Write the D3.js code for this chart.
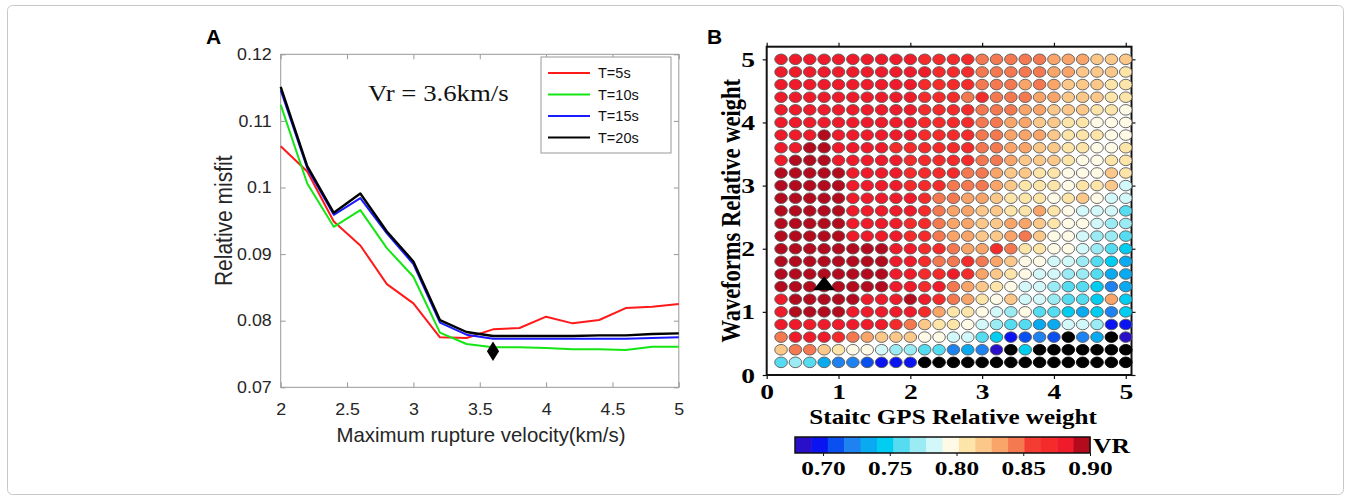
<!DOCTYPE html>
<html>
<head>
<meta charset="utf-8">
<script src="https://cdn.jsdelivr.net/npm/d3@7"></script>
<style>
body { margin: 0; background: #fff; }
svg { display: block; }
</style>
</head>
<body>
<script>
// ---- panel A data ----
const velocities = [2.0, 2.2, 2.4, 2.6, 2.8, 3.0, 3.2, 3.4, 3.6, 3.8, 4.0, 4.2, 4.4, 4.6, 4.8, 5.0];
const misfitT5  = [0.1062, 0.1024, 0.0949, 0.0913, 0.0855, 0.0826, 0.0775, 0.0774, 0.0787, 0.0789, 0.0806, 0.0796, 0.0801, 0.0819, 0.0821, 0.0825];
const misfitT10 = [0.1124, 0.1006, 0.0941, 0.0966, 0.0909, 0.0866, 0.0782, 0.0765, 0.0760, 0.0760, 0.0759, 0.0757, 0.0757, 0.0756, 0.0761, 0.0761];
const misfitT15 = [0.1146, 0.1029, 0.0959, 0.0984, 0.0931, 0.0885, 0.0797, 0.0779, 0.0773, 0.0773, 0.0773, 0.0773, 0.0773, 0.0773, 0.0774, 0.0775];
const misfitT20 = [0.1151, 0.1032, 0.0962, 0.0991, 0.0934, 0.0889, 0.0801, 0.0783, 0.0777, 0.0777, 0.0777, 0.0777, 0.0778, 0.0778, 0.0780, 0.0781];
const seriesNames = ["T=5s", "T=10s", "T=15s", "T=20s"];
const seriesColors = ["#ff1a1a", "#14e614", "#1a1aff", "#000000"];
const bestVr = [3.6, 0.0754];
const xTicksA = [2, 2.5, 3, 3.5, 4, 4.5, 5];
const yTicksA = [0.07, 0.08, 0.09, 0.1, 0.11, 0.12];

// ---- panel B data ----
const gpsWeights = [0.2, 0.4, 0.6, 0.8, 1.0, 1.2, 1.4, 1.6, 1.8, 2.0, 2.2, 2.4, 2.6, 2.8, 3.0, 3.2, 3.4, 3.6, 3.8, 4.0, 4.2, 4.4, 4.6, 4.8, 5.0];
// rows from top (5.0) to bottom (0.2)
const waveWeights = [5.0, 4.8, 4.6, 4.4, 4.2, 4.0, 3.8, 3.6, 3.4, 3.2, 3.0, 2.8, 2.6, 2.4, 2.2, 2.0, 1.8, 1.6, 1.4, 1.2, 1.0, 0.8, 0.6, 0.4, 0.2];
const vrRows = [
  [.88,.88,.88,.88,.88,.88,.88,.88,.88,.88,.87,.87,.87,.87,.845,.845,.845,.845,.845,.83,.83,.83,.82,.82,.82],
  [.88,.88,.88,.88,.88,.88,.88,.88,.88,.88,.88,.87,.87,.87,.845,.845,.845,.845,.845,.83,.83,.82,.82,.82,.81],
  [.88,.88,.88,.88,.88,.88,.88,.88,.88,.88,.87,.87,.87,.87,.845,.845,.845,.83,.845,.83,.82,.82,.82,.81,.81],
  [.88,.88,.88,.88,.88,.88,.88,.88,.88,.88,.87,.87,.87,.845,.87,.845,.845,.845,.83,.83,.82,.82,.82,.81,.81],
  [.88,.88,.88,.88,.88,.88,.88,.88,.88,.88,.87,.87,.87,.87,.845,.845,.845,.83,.83,.82,.82,.82,.81,.81,.795],
  [.88,.88,.88,.88,.88,.88,.88,.88,.88,.88,.87,.87,.87,.87,.845,.845,.83,.83,.82,.82,.81,.81,.795,.795,.795],
  [.88,.88,.88,.89,.88,.88,.88,.88,.88,.88,.87,.87,.87,.87,.845,.845,.83,.83,.83,.82,.81,.81,.81,.795,.795],
  [.88,.88,.89,.89,.88,.88,.88,.88,.87,.87,.87,.87,.87,.87,.845,.845,.83,.83,.82,.82,.81,.81,.795,.795,.81],
  [.88,.89,.89,.89,.88,.88,.88,.88,.88,.87,.87,.87,.87,.87,.845,.845,.83,.82,.82,.82,.81,.795,.795,.81,.81],
  [.89,.89,.89,.89,.89,.88,.88,.88,.88,.87,.87,.87,.87,.845,.845,.83,.82,.82,.81,.81,.795,.795,.795,.82,.81],
  [.89,.89,.89,.89,.89,.88,.88,.88,.88,.87,.87,.87,.845,.845,.845,.83,.82,.81,.81,.81,.795,.81,.81,.82,.78],
  [.89,.89,.89,.89,.89,.88,.88,.88,.88,.88,.87,.845,.845,.83,.83,.82,.81,.81,.81,.795,.81,.82,.795,.78,.78],
  [.89,.89,.89,.89,.89,.88,.88,.88,.88,.88,.87,.845,.83,.83,.82,.82,.81,.81,.83,.81,.795,.78,.78,.78,.755],
  [.89,.89,.89,.89,.89,.88,.88,.88,.88,.87,.87,.845,.83,.83,.82,.82,.83,.83,.82,.81,.795,.795,.78,.77,.77],
  [.89,.89,.89,.89,.89,.88,.88,.88,.88,.87,.87,.845,.83,.83,.82,.82,.83,.845,.82,.795,.795,.78,.77,.77,.755],
  [.89,.89,.89,.89,.89,.89,.89,.89,.88,.88,.87,.87,.845,.83,.83,.87,.845,.81,.81,.795,.795,.78,.77,.755,.745],
  [.89,.89,.89,.89,.89,.89,.89,.89,.88,.88,.87,.845,.845,.87,.845,.83,.82,.795,.795,.78,.78,.77,.755,.745,.73],
  [.89,.89,.89,.89,.89,.89,.89,.89,.88,.88,.87,.87,.88,.87,.83,.82,.81,.795,.78,.78,.77,.77,.755,.73,.73],
  [.89,.89,.89,.89,.89,.89,.89,.89,.88,.88,.87,.88,.845,.83,.82,.81,.795,.78,.78,.77,.755,.755,.745,.72,.73],
  [.88,.89,.89,.89,.89,.89,.88,.88,.88,.89,.88,.87,.845,.83,.81,.795,.82,.78,.78,.77,.755,.755,.745,.83,.745],
  [.88,.89,.89,.89,.89,.88,.88,.88,.88,.88,.87,.83,.81,.81,.795,.78,.77,.795,.755,.755,.745,.73,.745,.72,.745],
  [.88,.88,.88,.88,.88,.88,.88,.88,.87,.845,.82,.81,.81,.795,.78,.77,.755,.755,.73,.73,.78,.78,.77,.695,.695],
  [.845,.88,.88,.88,.87,.845,.83,.82,.82,.82,.795,.795,.78,.78,.755,.745,.695,.705,.72,.705,.62,.72,.73,.62,.68],
  [.82,.845,.845,.82,.81,.795,.795,.78,.77,.77,.755,.755,.72,.73,.72,.68,.62,.745,.62,.62,.62,.62,.62,.62,.62],
  [.755,.77,.755,.73,.72,.72,.705,.695,.695,.695,.62,.62,.62,.62,.62,.62,.62,.62,.62,.62,.62,.62,.62,.62,.62]
];
const bestWeight = [0.8, 1.4];
const vrPalette = ["#2a0fc8", "#0a14f0", "#0a50f0", "#1e82f0", "#0aaaf0", "#00cdf0",
                   "#55dcf0", "#9bebf5", "#d2f8fa", "#fffae6", "#fde4a8", "#fcc88a",
                   "#f9a56a", "#f47850", "#f43c32", "#f52a2a", "#ef1a2a", "#b40a1e"];
const vrTicks = [0.70, 0.75, 0.80, 0.85, 0.90];
const axisTicksB = [0, 1, 2, 3, 4, 5];

const sans = "'Liberation Sans', Arial, sans-serif";
const serif = "'Liberation Serif', 'Times New Roman', serif";

const svg = d3.select("body").append("svg")
  .attr("width", 1351)
  .attr("height", 500);

// figure frame
svg.append("rect")
  .attr("x", 7.5).attr("y", 5.5)
  .attr("width", 1336).attr("height", 489)
  .attr("rx", 5)
  .attr("fill", "none")
  .attr("stroke", "#c8c8c8");

// ================= panel A =================
const xA = d3.scaleLinear().domain([2, 5]).range([280.7, 678.8]);
const yA = d3.scaleLinear().domain([0.07, 0.12]).range([387.3, 54.3]);
const gA = svg.append("g").attr("font-family", sans);

gA.append("rect")
  .attr("x", xA(2)).attr("y", yA(0.12))
  .attr("width", xA(5) - xA(2)).attr("height", yA(0.07) - yA(0.12))
  .attr("fill", "#fff").attr("stroke", "#999").attr("stroke-width", 1);

function styleAxisA(g) {
  g.select(".domain").remove();
  g.selectAll(".tick line").attr("stroke", "#999");
  g.selectAll(".tick text").attr("fill", "#262626").attr("font-size", 16.5)
    .attr("font-family", sans).attr("transform", "scale(1.08,1)");
}
gA.append("g").attr("transform", `translate(0,${yA(0.07)})`)
  .call(d3.axisBottom(xA).tickValues(xTicksA).tickSize(-5).tickPadding(15.5).tickFormat(d3.format("")))
  .call(styleAxisA);
gA.append("g").attr("transform", `translate(0,${yA(0.12)})`)
  .call(d3.axisTop(xA).tickValues(xTicksA).tickSize(-5).tickFormat(""))
  .call(styleAxisA);
gA.append("g").attr("transform", `translate(${xA(2)},0)`)
  .call(d3.axisLeft(yA).tickValues(yTicksA).tickSize(-5).tickPadding(8.3).tickFormat(d3.format("")))
  .call(styleAxisA);
gA.append("g").attr("transform", `translate(${xA(5)},0)`)
  .call(d3.axisRight(yA).tickValues(yTicksA).tickSize(-5).tickFormat(""))
  .call(styleAxisA);

const allSeries = [misfitT5, misfitT10, misfitT15, misfitT20];
const line = d3.line().x((d, i) => xA(velocities[i])).y(d => yA(d));
gA.selectAll("path.series").data(allSeries).join("path")
  .attr("class", "series")
  .attr("d", d => line(d))
  .attr("fill", "none")
  .attr("stroke", (d, i) => seriesColors[i])
  .attr("stroke-width", (d, i) => i === 3 ? 2.4 : 2)
  .attr("stroke-linejoin", "round");

gA.append("path")
  .attr("d", d3.symbol(d3.symbolDiamond, 110))
  .attr("transform", `translate(${xA(bestVr[0])},${yA(bestVr[1])}) scale(1.08,1)`)
  .attr("fill", "#000");

gA.append("text")
  .attr("transform", "translate(368,101) scale(1.14,1)")
  .attr("font-family", serif)
  .attr("font-size", 23.5)
  .attr("fill", "#111")
  .text("Vr = 3.6km/s");

// legend
const leg = gA.append("g").attr("transform", "translate(541,57)");
leg.append("rect").attr("width", 130).attr("height", 96)
  .attr("fill", "#fff").attr("stroke", "#999");
seriesNames.forEach((name, i) => {
  const yy = 16 + i * 21.5;
  leg.append("line").attr("x1", 7).attr("x2", 49).attr("y1", yy).attr("y2", yy)
    .attr("stroke", seriesColors[i]).attr("stroke-width", 2);
  leg.append("text").attr("x", 57).attr("y", yy + 5)
    .attr("font-size", 14.5).attr("fill", "#111").text(name);
});

gA.append("text")
  .attr("transform", `translate(232,${(yA(0.07) + yA(0.12)) / 2}) scale(1.1,1) rotate(-90)`)
  .attr("text-anchor", "middle")
  .attr("font-size", 21).attr("fill", "#262626")
  .text("Relative misfit");
gA.append("text")
  .attr("x", 481).attr("y", 442)
  .attr("text-anchor", "middle")
  .attr("font-size", 20.4).attr("fill", "#262626")
  .text("Maximum rupture velocity(km/s)");
gA.append("text")
  .attr("x", 206).attr("y", 44)
  .attr("font-size", 21).attr("font-weight", "bold").attr("fill", "#000")
  .text("A");

// ================= panel B =================
const xB = d3.scaleLinear().domain([0, 5.08]).range([766.7, 1131.5]);
const yB = d3.scaleLinear().domain([0, 5.2]).range([375, 46.7]);
const color = d3.scaleQuantize().domain([0.679, 0.9]).range(vrPalette);
const fillFor = v => v < 0.679 ? "#000" : color(v);
const gB = svg.append("g");

gB.append("rect")
  .attr("x", xB(0)).attr("y", yB(5.2))
  .attr("width", xB(5.08) - xB(0)).attr("height", yB(0) - yB(5.2))
  .attr("fill", "#fff").attr("stroke", "#111").attr("stroke-width", 2);

function styleAxisB(g) {
  g.select(".domain").remove();
  g.selectAll(".tick line").attr("stroke", "#111").attr("stroke-width", 1.2);
  g.selectAll(".tick text").attr("fill", "#000").attr("font-size", 22)
    .attr("font-weight", "bold").attr("font-family", serif)
    .attr("transform", "scale(1.25,1)");
}
gB.append("g").attr("transform", `translate(0,${yB(0)})`)
  .call(d3.axisBottom(xB).tickValues(axisTicksB).tickSize(4).tickPadding(4).tickFormat(d3.format("d")))
  .call(styleAxisB);
gB.append("g").attr("transform", `translate(0,${yB(5.2)})`)
  .call(d3.axisTop(xB).tickValues(axisTicksB).tickSize(4).tickFormat(""))
  .call(styleAxisB);
gB.append("g").attr("transform", `translate(${xB(0)},0)`)
  .call(d3.axisLeft(yB).tickValues(axisTicksB).tickSize(4).tickPadding(5.4).tickFormat(d3.format("d")))
  .call(styleAxisB);
gB.append("g").attr("transform", `translate(${xB(5.08)},0)`)
  .call(d3.axisRight(yB).tickValues(axisTicksB).tickSize(4).tickFormat(""))
  .call(styleAxisB);

const cells = [];
vrRows.forEach((row, r) => row.forEach((v, c) => cells.push({ x: gpsWeights[c], y: waveWeights[r], v })));
gB.selectAll("ellipse.cell").data(cells).join("ellipse")
  .attr("class", "cell")
  .attr("cx", d => xB(d.x))
  .attr("cy", d => yB(d.y))
  .attr("rx", 6.3).attr("ry", 5.3)
  .attr("fill", d => fillFor(d.v))
  .attr("stroke", d => d.v < 0.679 ? "#000" : "#5a5a5a")
  .attr("stroke-width", 0.9);

gB.append("path")
  .attr("d", d3.symbol(d3.symbolTriangle, 190))
  .attr("transform", `translate(${xB(bestWeight[0])},${yB(bestWeight[1]) - 1}) scale(1.05,0.78)`)
  .attr("fill", "#000");

gB.append("text")
  .attr("transform", `translate(${(xB(0) + xB(5.08)) / 2 + 4},424) scale(1.14,1)`)
  .attr("text-anchor", "middle")
  .attr("font-family", serif).attr("font-weight", "bold").attr("font-size", 22)
  .text("Staitc GPS Relative weight");
gB.append("text")
  .attr("transform", `translate(740,${(yB(0) + yB(5.2)) / 2}) scale(1.22,1) rotate(-90)`)
  .attr("text-anchor", "middle")
  .attr("font-family", serif).attr("font-weight", "bold").attr("font-size", 22.5)
  .text("Waveforms Relative weight");
gB.append("text")
  .attr("x", 707).attr("y", 44)
  .attr("font-family", sans)
  .attr("font-size", 21).attr("font-weight", "bold")
  .text("B");

// colorbar
const xC = d3.scaleLinear().domain([0.679, 0.9]).range([795, 1090]);
const cbY = 437, cbH = 16;
const gC = svg.append("g");
gC.selectAll("rect.seg").data(vrPalette).join("rect")
  .attr("class", "seg")
  .attr("x", c => xC(color.invertExtent(c)[0]))
  .attr("width", c => xC(color.invertExtent(c)[1]) - xC(color.invertExtent(c)[0]) + 0.5)
  .attr("y", cbY).attr("height", cbH)
  .attr("fill", c => c);
gC.append("rect")
  .attr("x", xC(0.679)).attr("y", cbY)
  .attr("width", xC(0.9) - xC(0.679)).attr("height", cbH)
  .attr("fill", "none").attr("stroke", "#111").attr("stroke-width", 1.5);
gC.append("g").attr("transform", `translate(0,${cbY + cbH})`)
  .call(d3.axisBottom(xC).tickValues(vrTicks).tickSize(3).tickPadding(5).tickFormat(d3.format(".2f")))
  .call(g => {
    g.select(".domain").remove();
    g.selectAll(".tick line").attr("stroke", "#111");
    g.selectAll(".tick text").attr("fill", "#000").attr("font-size", 19.5)
      .attr("font-weight", "bold").attr("font-family", serif)
      .attr("transform", "scale(1.3,1)");
  });
gC.append("text")
  .attr("transform", "translate(1093,453) scale(1.16,1)")
  .attr("font-family", serif).attr("font-weight", "bold").attr("font-size", 22)
  .text("VR");
</script>
</body>
</html>
